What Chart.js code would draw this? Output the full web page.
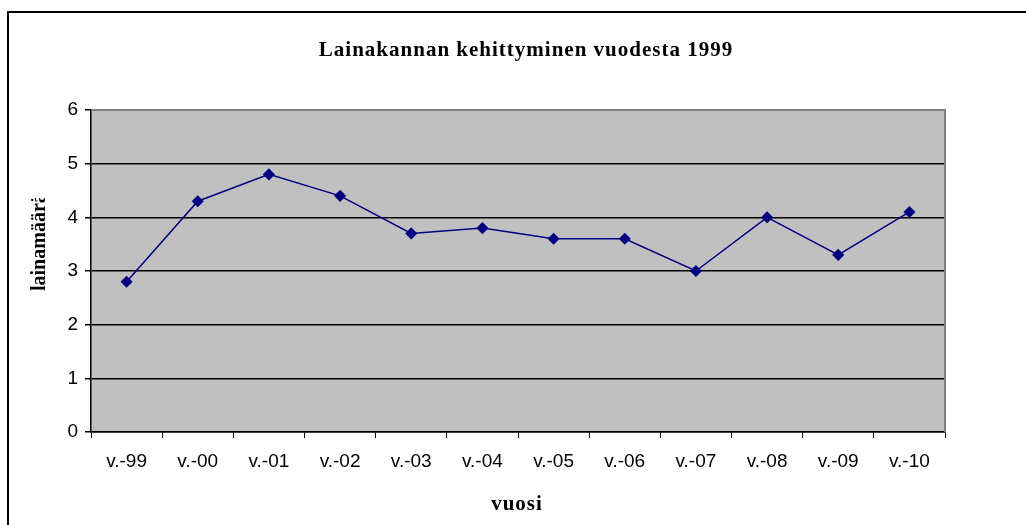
<!DOCTYPE html>
<html>
<head>
<meta charset="utf-8">
<script src="https://cdn.jsdelivr.net/npm/chart.js@4/dist/chart.umd.min.js"></script>
<style>
  html, body { margin: 0; padding: 0; background: #fff; }
  #wrap { width: 1026px; height: 525px; }
</style>
</head>
<body>
<div id="wrap"><canvas id="loanChart" width="1026" height="525"></canvas></div>
<script>
// data
const years = ["v.-99", "v.-00", "v.-01", "v.-02", "v.-03", "v.-04", "v.-05", "v.-06", "v.-07", "v.-08", "v.-09", "v.-10"];
const loans = [2.8, 4.3, 4.8, 4.4, 3.7, 3.8, 3.6, 3.6, 3.0, 4.0, 3.3, 4.1];
const yTicks = [0, 1, 2, 3, 4, 5, 6];

const chartTitle = "Lainakannan kehittyminen vuodesta 1999";
const xTitle = "vuosi";
const yTitle = "lainamäärä";

const serif = "'Liberation Serif', 'Times New Roman', serif";
const sans = "'Liberation Sans', Arial, sans-serif";

// gray plot area, outer frame and the serif titles (spaced out like the old spreadsheet export)
const frame = {
    id: "frame",
    beforeDraw(chart) {
        const c = chart.ctx, a = chart.chartArea;
        c.save();
        c.fillStyle = "#c0c0c0";
        c.fillRect(a.left, a.top, a.right - a.left, a.bottom - a.top);
        c.strokeStyle = "#000";
        c.lineWidth = 2;
        c.beginPath();
        c.moveTo(8, 525);
        c.lineTo(8, 12);
        c.lineTo(1026, 12);
        c.stroke();
        c.restore();
    },
    afterDatasetsDraw(chart) {
        const c = chart.ctx, a = chart.chartArea;
        c.save();
        c.strokeStyle = "#808080";
        c.lineWidth = 2;
        c.beginPath();
        c.moveTo(a.left, a.top);
        c.lineTo(a.right, a.top);
        c.lineTo(a.right, a.bottom);
        c.stroke();
        c.restore();
    },
    afterDraw(chart) {
        const c = chart.ctx;
        c.save();
        c.fillStyle = "#000";
        c.textBaseline = "alphabetic";
        c.textAlign = "center";
        c.letterSpacing = "1px";
        c.font = "bold 21px " + serif;
        c.fillText(chartTitle, 526, 56);
        c.fillText(xTitle, 517, 510);
        // y title, cut at the top the way the reference is
        c.letterSpacing = "0px";
        c.font = "bold 20px " + serif;
        c.beginPath();
        c.rect(0, 198, 90, 300);
        c.clip();
        c.translate(45, 291);
        c.rotate(-Math.PI / 2);
        c.textAlign = "left";
        c.fillText(yTitle, 0, 0);
        c.restore();
    }
};

new Chart(document.getElementById("loanChart"), {
    type: "line",
    data: {
        labels: years,
        datasets: [{
            data: loans,
            borderColor: "#000080",
            backgroundColor: "#000080",
            borderWidth: 1.5,
            pointStyle: "rectRot",
            pointRadius: 5,
            pointHoverRadius: 5,
            tension: 0
        }]
    },
    plugins: [frame],
    options: {
        responsive: false,
        animation: false,
        events: [],
        layout: { padding: { left: 20, right: 81, top: 110, bottom: 0 } },
        plugins: {
            legend: { display: false },
            tooltip: { enabled: false },
            title: { display: false }
        },
        scales: {
            x: {
                offset: true,
                afterFit(scale) { scale.height = 93; },
                border: { color: "#000", width: 1.5 },
                grid: { drawOnChartArea: false, drawTicks: true, tickLength: 6, tickColor: "#000", offset: true },
                ticks: {
                    color: "#000",
                    padding: 12,
                    maxRotation: 0,
                    font: { family: sans, size: 19 }
                }
            },
            y: {
                min: 0,
                max: 6,
                afterFit(scale) { scale.width = 71; },
                afterBuildTicks(scale) { scale.ticks = yTicks.map(v => ({ value: v })); },
                border: { color: "#000", width: 1.5 },
                grid: {
                    color: ctx => ctx.tick && ctx.tick.value === 6 ? "#808080" : "#000",
                    lineWidth: 1.5,
                    tickLength: 6,
                    tickColor: "#000"
                },
                ticks: {
                    color: "#000",
                    padding: 7,
                    font: { family: sans, size: 19 }
                }
            }
        }
    }
});
</script>
</body>
</html>
